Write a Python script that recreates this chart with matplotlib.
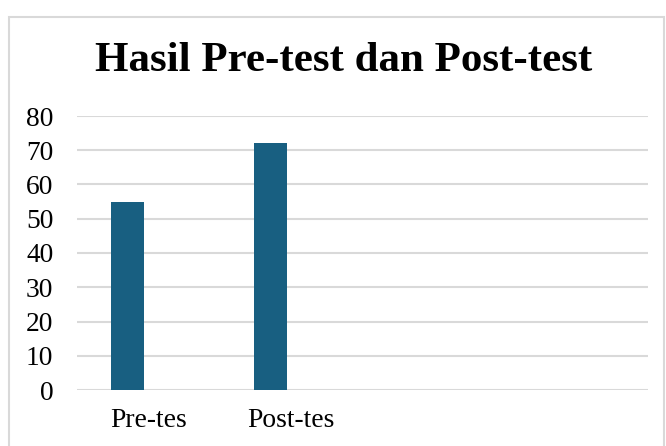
import matplotlib
matplotlib.use("Agg")
import matplotlib.pyplot as plt
from matplotlib.patches import Rectangle

plt.rcParams['font.family'] = ['Liberation Serif', 'DejaVu Serif']

categories = ["Pre-tes", "Post-tes", "", ""]
scores = [55, 72, None, None]
title = "Hasil Pre-test dan Post-test"
yticks = [0, 10, 20, 30, 40, 50, 60, 70, 80]

W, H = 666, 446
fig = plt.figure(figsize=(W / 100, H / 100), dpi=100)

# chart frame (light grey border like the office chart box)
fig.patches.append(Rectangle((9 / W, -0.05), (664 - 9) / W, 1.05 - 17 / H,
                             transform=fig.transFigure, fill=False,
                             edgecolor="#d9d9d9", linewidth=1.5))

ax = fig.add_axes([77 / W, 1 - 390 / H, (648 - 77) / W, (390 - 116) / H])

xs = [i for i, v in enumerate(scores) if v is not None]
vals = [v for v in scores if v is not None]
ax.bar([x - 0.146 for x in xs], vals, width=0.23, color="#185f81", zorder=3)

ax.set_xlim(-0.5, len(categories) - 0.5)
ax.set_ylim(0, 80)
ax.set_yticks(yticks)
ax.set_xticks(range(len(categories)))
ax.set_xticklabels(categories)
ax.tick_params(axis="both", length=0, labelsize=19.8)
ax.tick_params(axis="y", pad=17)
ax.tick_params(axis="x", pad=13)
ax.grid(axis="y", color="#d9d9d9", linewidth=1.5, zorder=0)
for s in ax.spines.values():
    s.set_visible(False)

fig.text(344 / W, 1 - 61 / H, title, ha="center", va="center",
         fontsize=31, fontweight="bold")

fig.savefig("out.png", dpi=100)
